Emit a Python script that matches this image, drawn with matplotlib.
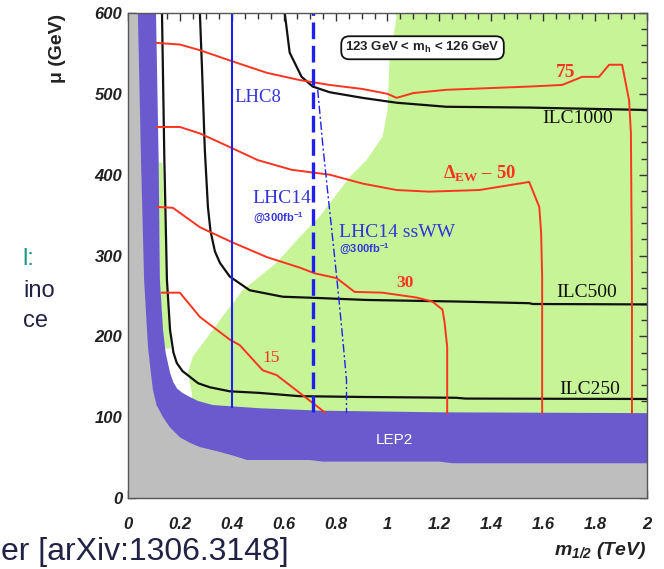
import matplotlib
matplotlib.use('Agg')
import matplotlib.pyplot as plt
from matplotlib.ticker import MultipleLocator

plt.rcParams['mathtext.fontset'] = 'custom'
plt.rcParams['mathtext.rm'] = 'Liberation Serif:bold'
plt.rcParams['mathtext.it'] = 'Liberation Sans:italic:bold'
plt.rcParams['mathtext.sf'] = 'Liberation Sans:italic:bold'
plt.rcParams['mathtext.bf'] = 'Liberation Sans:bold'

# ---------------- data (m_1/2 in TeV, mu in GeV) ----------------
# excluded regions
gray_x = [0.038, 0.05, 0.062, 0.077, 0.088, 0.096, 0.11, 0.135, 0.16, 0.2, 0.24, 0.277, 0.354, 0.41, 0.458, 0.7, 0.75, 1.2, 1.25, 2.0]
gray_y = [600, 420, 270, 187, 155, 134, 115, 100, 88, 75, 68, 63, 57, 52, 47, 47, 45, 45, 43, 43]
lep2_x = [0.108, 0.118, 0.123, 0.135, 0.145, 0.162, 0.175, 0.19, 0.21, 0.238, 0.27, 0.327, 0.508, 0.75, 1.2, 2.0]
lep2_y = [600, 420, 270, 208, 180, 155, 143, 135, 130, 125, 120, 115, 111, 108, 106, 105]
# Higgs mass 123-126 GeV allowed region (green)
green_x = [1.03, 1.035, 1.008, 1.0, 0.981, 0.919, 0.854, 0.788, 0.738, 0.662, 0.573, 0.442,
           0.354, 0.327, 0.25, 0.231, 0.246, 0.25, 2.0, 2.0]
green_y = [600, 595, 542, 480, 447, 418, 397, 369, 348, 323, 291, 257,
           220, 208, 175, 155, 130, 100, 100, 600]
sliver_x = [0.116, 0.133, 0.15, 0.16, 0.165, 0.135, 0.123]
sliver_y = [415, 415, 270, 215, 185, 185, 270]

# ILC reach contours
ilc250_x = [0.131, 0.14, 0.15, 0.162, 0.175, 0.188, 0.21, 0.238, 0.27, 0.315, 0.392, 0.508, 0.66, 0.9, 1.265, 1.3, 2.0]
ilc250_y = [600, 420, 270, 208, 180, 167, 157, 150, 142, 137, 132, 130, 126, 125, 124, 123, 122.5]
ilc500_x = [0.277, 0.285, 0.296, 0.308, 0.318, 0.335, 0.354, 0.392, 0.469, 0.596, 0.727, 0.919, 1.277, 1.546, 1.56, 2.0]
ilc500_y = [600, 533, 431, 360, 330, 305, 291, 274, 257, 249, 247.5, 245, 243, 241, 240, 239.5]
ilc1000_x = [0.604, 0.623, 0.669, 0.712, 0.777, 0.904, 1.035, 1.227, 1.546, 2.0]
ilc1000_y = [600, 551, 521, 509, 502, 495, 489, 484, 483, 480]

# Delta_EW contours
dew75_x = [0.111, 0.2, 0.277, 0.404, 0.535, 0.662, 0.777, 0.904, 1.0, 1.035, 1.1, 1.227, 1.546, 1.673,
           1.75, 1.815, 1.854, 1.904, 1.931, 1.938, 1.942, 1.942]
dew75_y = [563, 561, 554, 540, 526, 517, 511, 506, 500, 495, 501, 505, 509, 511,
           521, 521, 536, 536, 492, 451, 273, 105]
dew50_x = [0.111, 0.2, 0.277, 0.373, 0.5, 0.631, 0.777, 0.904, 1.035, 1.16, 1.354, 1.546, 1.585, 1.592, 1.596, 1.596]
dew50_y = [459, 459, 451, 437, 418, 406, 400, 389, 381, 379, 381, 391, 360, 328, 273, 105]
dew30_x = [0.115, 0.173, 0.277, 0.404, 0.535, 0.662, 0.719, 0.804, 0.873, 0.981, 1.112, 1.173, 1.212, 1.22, 1.23, 1.23]
dew30_y = [360, 359, 335, 316, 298, 285, 278, 272, 255, 254, 248, 243, 233, 217, 187, 105]
dew15_x = [0.131, 0.2, 0.277, 0.392, 0.431, 0.519, 0.573, 0.662, 0.758]
dew15_y = [254, 254, 224, 196, 189, 158, 152, 130, 106]

# LHC reach
lhc8_x = [0.4, 0.4]
lhc8_y = [113, 600]
lhc14_x = [0.712, 0.712]
lhc14_y = [106, 600]
sswww_x = [0.731, 0.75, 0.77, 0.788, 0.804, 0.827, 0.842, 0.842]
sswww_y = [505, 439, 377, 323, 274, 199, 146, 105]

x_ticks = [0, 0.2, 0.4, 0.6, 0.8, 1, 1.2, 1.4, 1.6, 1.8, 2]
x_ticklabels = ['0', '0.2', '0.4', '0.6', '0.8', '1', '1.2', '1.4', '1.6', '1.8', '2']
y_ticks = [0, 100, 200, 300, 400, 500, 600]

# ---------------- colours ----------------
C_GREEN = '#c6f497'
C_PURPLE = '#6a5acd'
C_GRAY = '#bebebe'
C_RED = '#fb3420'
C_BLUE = '#1f1ff0'
C_BLUETXT = '#3434dc'

fig = plt.figure(figsize=(6.64, 5.69), dpi=100)
ax = fig.add_axes([128/664, 71/569, 519/664, 485/569])

ax.fill(green_x, green_y, color=C_GREEN, lw=0, zorder=1)
ax.fill(sliver_x, sliver_y, color=C_GREEN, lw=0, zorder=1)
ax.fill(lep2_x + [2.0, 0.0, 0.0], lep2_y + [0, 0, 600], color=C_PURPLE, lw=0, zorder=2)
ax.fill(gray_x + [2.0, 0.0, 0.0], gray_y + [0, 0, 600], color=C_GRAY, lw=0, zorder=3)

for xs, ys in [(ilc250_x, ilc250_y), (ilc500_x, ilc500_y), (ilc1000_x, ilc1000_y)]:
    ax.plot(xs, ys, color='#111111', lw=1.6, zorder=4)
for xs, ys in [(dew75_x, dew75_y), (dew50_x, dew50_y), (dew30_x, dew30_y), (dew15_x, dew15_y)]:
    ax.plot(xs, ys, color=C_RED, lw=1.4, zorder=4)
ax.plot(lhc8_x, lhc8_y, color=C_BLUE, lw=1.5, zorder=5)
ax.plot(lhc14_x, lhc14_y, color=C_BLUE, lw=2.4, dashes=(5, 2), zorder=5)
ax.plot(sswww_x, sswww_y, color=C_BLUE, lw=1.0, dashes=(6, 2, 1.5, 2), zorder=5)

serif = 'Liberation Serif'
ax.text(0.412, 496, 'LHC8', color=C_BLUETXT, fontsize=13.5, family=serif, va='center', zorder=6)
ax.text(0.481, 371, 'LHC14', color=C_BLUETXT, fontsize=14, family=serif, va='center', zorder=6)
ax.text(0.481, 346, r'@300fb$^{\mathregular{-1}}$', color=C_BLUETXT, fontsize=8, family='Liberation Sans',
        weight='bold', va='center', zorder=6)
ax.text(0.815, 329, 'LHC14 ssWW', color=C_BLUETXT, fontsize=14, family=serif, va='center', zorder=6)
ax.text(0.815, 307, r'@300fb$^{\mathregular{-1}}$', color=C_BLUETXT, fontsize=8, family='Liberation Sans',
        weight='bold', va='center', zorder=6)
ax.text(1.596, 470, 'ILC1000', color='#111111', fontsize=14, family=serif, va='center', zorder=6)
ax.text(1.65, 254, 'ILC500', color='#111111', fontsize=14, family=serif, va='center', zorder=6)
ax.text(1.662, 134, 'ILC250', color='#111111', fontsize=14, family=serif, va='center', zorder=6)
ax.text(1.212, 402, r'$\Delta_{\mathrm{EW}}$ – 50', color=C_RED, fontsize=13.5, family=serif,
        weight='bold', va='center', zorder=6)
ax.text(1.65, 527, '75', color=C_RED, fontsize=14, family=serif, weight='bold', va='center', zorder=6)
ax.text(1.035, 266, '30', color=C_RED, fontsize=12.5, family=serif, weight='bold', va='center', zorder=6)
ax.text(0.519, 173, '15', color=C_RED, fontsize=12.5, family=serif, va='center', zorder=6)
ax.text(1.027, 72, 'LEP2', color='white', fontsize=11, family='Liberation Sans', ha='center', va='center', zorder=6)
ax.text(1.135, 557, r'123 GeV < m$_{\mathregular{h}}$ < 126 GeV', color='#222222', fontsize=9.5,
        family='Liberation Sans', weight='bold', ha='center', va='center', zorder=6,
        bbox=dict(boxstyle='round,pad=0.3,rounding_size=0.6', fc='white', ec='#111111', lw=1.3))

ax.set_xlim(0, 2)
ax.set_ylim(0, 600)
ax.set_xticks(x_ticks)
ax.set_xticklabels(x_ticklabels)
ax.set_yticks(y_ticks)
ax.xaxis.set_minor_locator(MultipleLocator(0.05))
ax.yaxis.set_minor_locator(MultipleLocator(20))
ax.tick_params(which='both', direction='in', top=True, right=True, color='#333333', width=1.0)
ax.tick_params(which='major', length=6)
ax.tick_params(which='minor', length=4)
ax.tick_params(axis='x', which='major', pad=14)
ax.tick_params(axis='y', which='major', pad=4)
for lab in ax.get_xticklabels() + ax.get_yticklabels():
    lab.set_fontfamily('Liberation Sans')
    lab.set_fontweight('bold')
    lab.set_fontstyle('italic')
    lab.set_fontsize(12)
    lab.set_color('#222222')
for sp in ax.spines.values():
    sp.set_color('#555555')
    sp.set_linewidth(1.0)
    sp.set_zorder(7)

fig.text(58/664, 1 - 48/569, 'μ (GeV)', rotation=90, fontsize=14, family='Liberation Sans',
         weight='bold', ha='center', va='center', color='#222222')
fig.text(647/664, 1 - 555/569, r'$\mathsf{m}_{\mathsf{1/2}}$ (TeV)', fontsize=14, family='Liberation Sans',
         weight='bold', style='italic', ha='right', va='baseline', color='#222222')

# fragments of the surrounding slide
fig.text(22/664, 1 - 265/569, 'l:', fontsize=17, family='Liberation Sans', color='#1a9a86', va='baseline')
fig.text(23/664, 1 - 297/569, 'ino', fontsize=17, family='Liberation Sans', color='#222244', va='baseline')
fig.text(23/664, 1 - 327/569, 'ce', fontsize=17, family='Liberation Sans', color='#222244', va='baseline')
fig.text(1/664, 1 - 560/569, 'er [arXiv:1306.3148]', fontsize=23, family='Liberation Sans',
         color='#222244', va='baseline')

fig.savefig('out.png', dpi=100, facecolor='white')
